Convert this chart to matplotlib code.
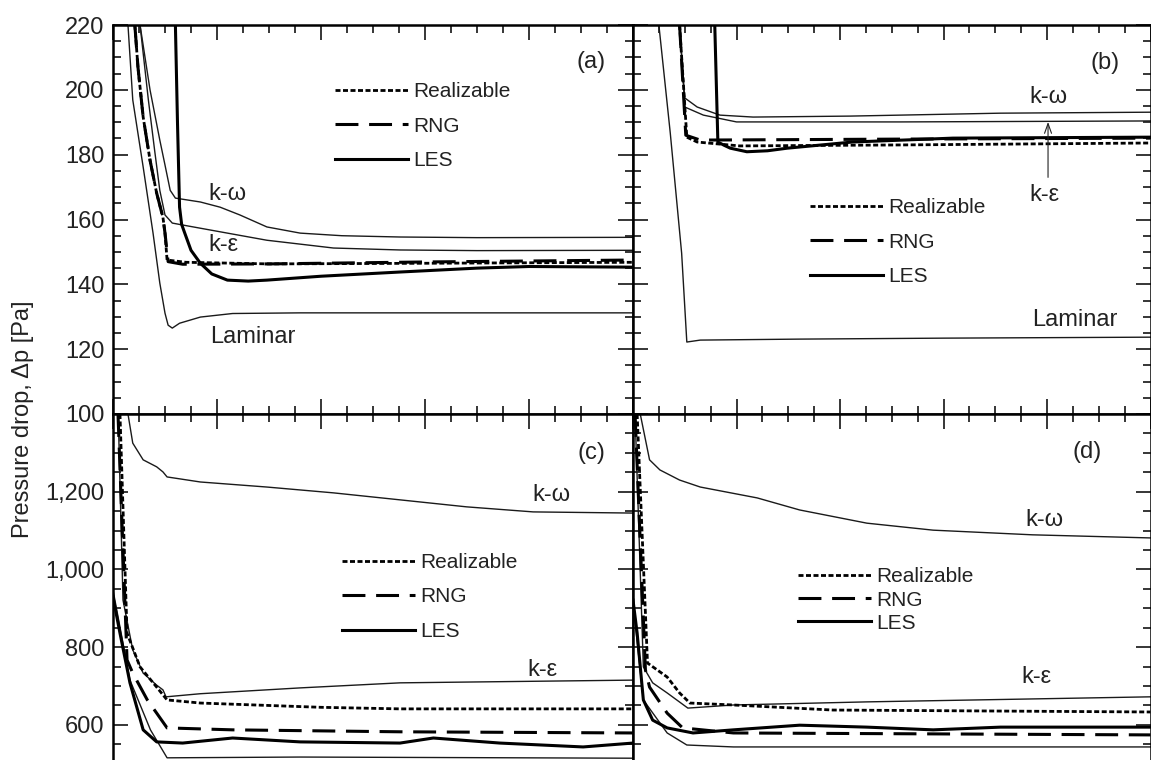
import numpy as np
import matplotlib
matplotlib.use("Agg")
import matplotlib.pyplot as plt
from matplotlib.lines import Line2D
from matplotlib.ticker import MultipleLocator, FuncFormatter

plt.rcParams['font.family'] = ['Liberation Sans', 'DejaVu Sans']

# -------- panel (a) --------
a_les_x = [0.60, 0.62, 0.64, 0.66, 0.69, 0.75, 0.84, 0.95, 1.10, 1.30, 1.48, 2.0, 2.76, 3.5, 4.0, 4.5, 5.0]
a_les_y = [220, 190, 163.8, 158.5, 155.8, 150.5, 146.5, 143.2, 141.3, 141.0, 141.3, 142.5, 143.8, 145.0, 145.5, 145.4, 145.3]
a_real_x = [0.21, 0.24, 0.29, 0.356, 0.42, 0.48, 0.50, 0.52, 0.7, 1.5, 3.0, 5.0]
a_real_y = [220, 207, 191.6, 178.3, 168.1, 160.7, 155.8, 147.5, 146.8, 146.3, 146.5, 146.8]
a_rng_x = [0.21, 0.24, 0.29, 0.356, 0.42, 0.48, 0.50, 0.53, 0.67, 1.5, 3.0, 5.0]
a_rng_y = [220, 207, 191.6, 178.3, 168.1, 160.7, 155.8, 147.0, 146.2, 146.3, 146.9, 147.5]
a_kw_x = [0.26, 0.356, 0.45, 0.50, 0.55, 0.60, 0.84, 1.03, 1.22, 1.48, 1.80, 2.2, 2.76, 3.5, 5.0]
a_kw_y = [220, 200, 184.5, 176.8, 169, 166.6, 165.4, 163.8, 161.4, 157.7, 155.8, 155.0, 154.6, 154.4, 154.5]
a_ke_x = [0.26, 0.34, 0.40, 0.45, 0.50, 0.57, 0.67, 1.10, 1.48, 2.12, 2.76, 3.5, 5.0]
a_ke_y = [220, 196.9, 181.4, 169, 161.4, 158.9, 158.3, 155.8, 153.6, 151.2, 150.6, 150.4, 150.5]
a_lam_x = [0.144, 0.19, 0.29, 0.385, 0.45, 0.50, 0.53, 0.57, 0.64, 0.84, 1.15, 1.8, 5.0]
a_lam_y = [220, 196.9, 176.2, 155.8, 140.4, 131.1, 127.4, 126.5, 128.0, 129.9, 131.0, 131.2, 131.2]

# -------- panel (b) --------
b_lam_x = [0.25, 0.36, 0.47, 0.52, 0.65, 1.6, 3.0, 5.0]
b_lam_y = [220, 186.7, 149.6, 122.2, 122.8, 123.1, 123.4, 123.7]
b_kw_x = [0.45, 0.50, 0.62, 0.84, 1.16, 2.1, 3.55, 5.0]
b_kw_y = [220, 197.5, 194.7, 192.2, 191.6, 191.9, 192.8, 193.1]
b_ke_x = [0.45, 0.50, 0.68, 1.0, 2.58, 5.0]
b_ke_y = [220, 194.7, 192.2, 190.1, 190.1, 190.4]
b_real_x = [0.45, 0.52, 0.62, 1.03, 2.58, 5.0]
b_real_y = [220, 185.4, 183.9, 182.7, 183.0, 183.6]
b_rng_x = [0.45, 0.51, 0.65, 2.58, 5.0]
b_rng_y = [220, 186, 184.5, 184.8, 185.1]
b_les_x = [0.79, 0.82, 0.88, 0.94, 1.1, 1.3, 1.49, 2.12, 3.09, 5.0]
b_les_y = [220, 183.9, 182.9, 182.0, 180.9, 181.2, 182.0, 183.9, 185.1, 185.4]

# -------- panel (c) --------
c_kw_x = [0.144, 0.19, 0.29, 0.42, 0.48, 0.52, 0.84, 1.48, 2.12, 2.76, 3.40, 4.04, 5.0]
c_kw_y = [1400, 1325, 1282, 1264, 1251, 1238, 1225, 1212, 1197, 1179, 1161, 1148, 1145]
c_ke_x = [0.05, 0.096, 0.19, 0.29, 0.42, 0.48, 0.51, 0.84, 1.8, 2.76, 3.4, 5.0]
c_ke_y = [1400, 921, 793, 733, 702, 690, 672, 680, 695, 708, 710, 715]
c_real_x = [0.067, 0.135, 0.26, 0.42, 0.52, 0.84, 2.0, 2.76, 5.0]
c_real_y = [1400, 836, 749, 697, 664, 656, 645, 641, 641]
c_rng_x = [0.048, 0.135, 0.19, 0.33, 0.42, 0.52, 1.15, 2.76, 5.0]
c_rng_y = [1400, 767, 733, 664, 630, 592, 587, 582, 579]
c_les_x = [0.0, 0.067, 0.163, 0.29, 0.42, 0.67, 1.15, 1.8, 2.76, 3.08, 3.72, 4.52, 5.0]
c_les_y = [929, 836, 708, 587, 556, 553, 566, 556, 553, 566, 553, 543, 553]
c_lam_x = [0.0, 0.163, 0.36, 0.52, 1.8, 5.0]
c_lam_y = [947, 715, 587, 515, 517, 514]

# -------- panel (d) --------
d_kw_x = [0.07, 0.16, 0.26, 0.45, 0.65, 1.2, 1.61, 2.26, 2.9, 3.86, 5.0]
d_kw_y = [1400, 1282, 1256, 1230, 1212, 1184, 1153, 1119, 1101, 1089, 1081]
d_ke_x = [0.02, 0.1, 0.19, 0.33, 0.53, 0.97, 2.26, 5.0]
d_ke_y = [1400, 749, 708, 682, 643, 651, 659, 672]
d_real_x = [0.04, 0.14, 0.33, 0.45, 0.55, 0.97, 1.93, 5.0]
d_real_y = [1400, 759, 723, 682, 656, 651, 638, 633]
d_rng_x = [0.02, 0.12, 0.16, 0.33, 0.48, 0.97, 5.0]
d_rng_y = [1400, 741, 697, 630, 592, 579, 574]
d_les_x = [0.0, 0.04, 0.1, 0.19, 0.33, 0.58, 0.97, 1.61, 2.26, 2.9, 3.55, 5.0]
d_les_y = [921, 836, 664, 612, 592, 579, 587, 599, 594, 587, 594, 594]
d_lam_x = [0.0, 0.1, 0.33, 0.52, 0.97, 5.0]
d_lam_y = [915, 664, 579, 548, 543, 543]

legend_labels = ["Realizable", "RNG", "LES"]

# line styles
thin = dict(color="#1a1a1a", lw=1.0)
real_st = dict(color="black", lw=2.0, linestyle=(0, (1.8, 0.9)))
rng_st = dict(color="black", lw=2.2, linestyle=(0, (7.5, 3.5)))
les_st = dict(color="black", lw=2.2)

fig = plt.figure(figsize=(11.51, 7.60), dpi=100)
W, H = 1151.0, 760.0
# bottom row: 200 Pa = 77.7 px, the panels run past the bottom of the picture
bot_h = 1000 * 77.7 / 200
ax_a = fig.add_axes([113 / W, 1 - 414 / H, 520 / W, 389 / H])
ax_b = fig.add_axes([633 / W, 1 - 414 / H, 517.5 / W, 389 / H])
ax_c = fig.add_axes([113 / W, (346 - bot_h) / H, 520 / W, bot_h / H])
ax_d = fig.add_axes([633 / W, (346 - bot_h) / H, 517.5 / W, bot_h / H])


def draw(ax, kw, ke, lam, real, rng, les):
    for xy in (kw, ke, lam):
        ax.plot(xy[0], xy[1], **thin)
    ax.plot(real[0], real[1], **real_st)
    ax.plot(rng[0], rng[1], **rng_st)
    ax.plot(les[0], les[1], **les_st)


draw(ax_a, (a_kw_x, a_kw_y), (a_ke_x, a_ke_y), (a_lam_x, a_lam_y),
     (a_real_x, a_real_y), (a_rng_x, a_rng_y), (a_les_x, a_les_y))
draw(ax_b, (b_kw_x, b_kw_y), (b_ke_x, b_ke_y), (b_lam_x, b_lam_y),
     (b_real_x, b_real_y), (b_rng_x, b_rng_y), (b_les_x, b_les_y))
draw(ax_c, (c_kw_x, c_kw_y), (c_ke_x, c_ke_y), (c_lam_x, c_lam_y),
     (c_real_x, c_real_y), (c_rng_x, c_rng_y), (c_les_x, c_les_y))
draw(ax_d, (d_kw_x, d_kw_y), (d_ke_x, d_ke_y), (d_lam_x, d_lam_y),
     (d_real_x, d_real_y), (d_rng_x, d_rng_y), (d_les_x, d_les_y))

# axes styling
for ax in (ax_a, ax_b, ax_c, ax_d):
    ax.set_xlim(0, 5)
    ax.xaxis.set_major_locator(MultipleLocator(1))
    ax.xaxis.set_minor_locator(MultipleLocator(0.25))
    ax.tick_params(which="both", direction="in", top=True, right=True,
                   labelbottom=False, labelleft=False, width=1.1,
                   labelsize=17, labelcolor="#222222", pad=6)
    ax.tick_params(which="major", length=11)
    ax.tick_params(which="minor", length=6)
    for s in ax.spines.values():
        s.set_linewidth(1.8)

for ax in (ax_a, ax_b):
    ax.set_ylim(100, 220)
    ax.yaxis.set_major_locator(MultipleLocator(20))
    ax.yaxis.set_minor_locator(MultipleLocator(5))
for ax in (ax_c, ax_d):
    ax.set_ylim(400, 1400)
    ax.set_yticks([600, 800, 1000, 1200])
    ax.yaxis.set_minor_locator(MultipleLocator(50))
    ax.yaxis.set_major_formatter(FuncFormatter(lambda v, p: f"{v:,.0f}"))

ax_a.tick_params(labelleft=True)
ax_c.tick_params(labelleft=True)

fig.text(23 / W, 1 - 419 / H, "Pressure drop, \u0394p [Pa]", rotation=90,
         ha="center", va="center", fontsize=17, color="#222222")

# text labels
tk = dict(fontsize=17, color="#222222", ha="center", va="center")
ax_a.text(4.6, 208.6, "(a)", **tk)
ax_a.text(1.1, 168, "k-\u03c9", **tk)
ax_a.text(1.06, 152, "k-\u03b5", **tk)
ax_a.text(1.34, 123.7, "Laminar", **tk)

ax_b.text(4.56, 208.3, "(b)", **tk)
ax_b.text(4.01, 197.8, "k-\u03c9", **tk)
ax_b.text(3.98, 167.5, "k-\u03b5", **tk)
ax_b.text(4.27, 129, "Laminar", **tk)
ax_b.annotate("", xy=(4.01, 190.1), xytext=(4.01, 173.0),
              arrowprops=dict(arrowstyle="->,head_length=0.7,head_width=0.25",
                              lw=0.8, color="#222222", shrinkA=0, shrinkB=0))

ax_c.text(4.6, 1300, "(c)", **tk)
ax_c.text(4.22, 1192, "k-\u03c9", **tk)
ax_c.text(4.13, 741, "k-\u03b5", **tk)

ax_d.text(4.39, 1302, "(d)", **tk)
ax_d.text(3.98, 1127, "k-\u03c9", **tk)
ax_d.text(3.9, 723, "k-\u03b5", **tk)

# legends
handles = [Line2D([], [], **real_st), Line2D([], [], **rng_st), Line2D([], [], **les_st)]


def add_legend(ax, x0, ymid, spacing):
    ax.legend(handles, legend_labels, loc="center left", bbox_to_anchor=(x0, ymid),
              frameon=False, fontsize=15, handlelength=3.5, handletextpad=0.25,
              labelspacing=spacing, borderpad=0, borderaxespad=0,
              labelcolor="#222222")


add_legend(ax_a, 0.427, 0.740, 0.75)
add_legend(ax_b, 0.342, 0.442, 0.75)
add_legend(ax_c, 0.440, (760 - 597 - (346 - bot_h)) / bot_h, 0.75)
add_legend(ax_d, 0.319, (760 - 600 - (346 - bot_h)) / bot_h, 0.2)

fig.savefig("out.png", dpi=100)
